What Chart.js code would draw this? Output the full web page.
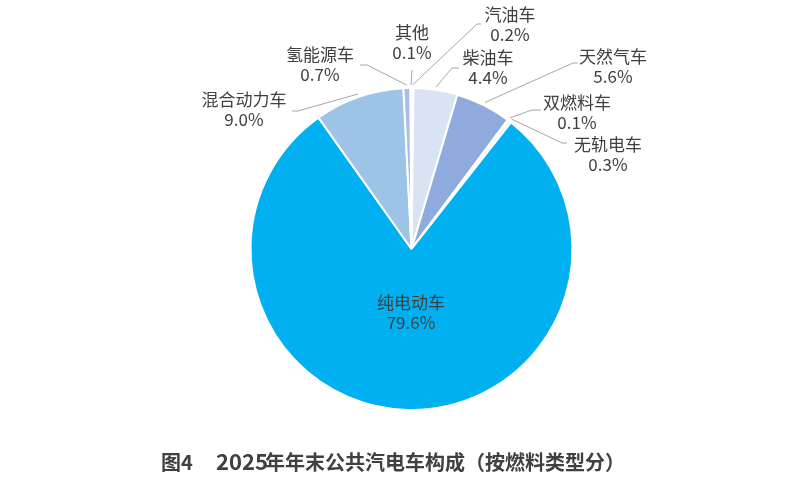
<!DOCTYPE html>
<html><head><meta charset="utf-8">
<script src="https://cdn.jsdelivr.net/npm/chart.js@4.4.1/dist/chart.umd.min.js"></script>
<style>html,body{margin:0;padding:0;background:#fff;overflow:hidden;}</style>
</head><body>
<canvas id="c" width="804" height="477" style="width:804px;height:477px;display:block"></canvas>
<script>
const categories = ['汽油车','柴油车','天然气车','双燃料车','无轨电车','纯电动车','混合动力车','氢能源车','其他'];
const shares = [0.2, 4.4, 5.6, 0.1, 0.3, 79.6, 9.0, 0.7, 0.1];
const percentLabels = ['0.2%','4.4%','5.6%','0.1%','0.3%','79.6%','9.0%','0.7%','0.1%'];
const sliceColors = ['#C9D8F0','#DAE3F3','#8FAADC','#B4C7E7','#DEEBF7','#00B0F0','#9DC3E6','#A9BEE6','#D6DCE5'];
const titleParts = ['图4', '2025', '年年末公共汽电车构成（按燃料类型分）'];

// label layout (text centre x, name-line y, leader elbow and end)
const labelLayout = [
  {x:510, y:15,  line:true, ex:477, ey:24,  hx:481},
  {x:488, y:58,  line:true, ex:452, ey:68,  hx:459},
  {x:613, y:57,  line:true, ex:573, ey:63,  hx:578},
  {x:577, y:103, line:true, ex:532, ey:110, hx:541},
  {x:608, y:145, line:true, ex:562, ey:143, hx:567},
  {x:411, y:303, line:false},
  {x:244, y:100, line:true, ex:298, ey:111, hx:292},
  {x:320, y:55,  line:true, ex:367, ey:65,  hx:360},
  {x:412, y:33,  line:true, ex:412, ey:70,  hx:412}
];
const titleX = [161, 216, 265];

const labelPlugin = {
  id: 'sliceLabels',
  afterDatasetsDraw(chart) {
    const ctx = chart.ctx;
    const meta = chart.getDatasetMeta(0);
    ctx.save();
    meta.data.forEach((arc, i) => {
      const L = labelLayout[i];
      if (L.line) {
        const mid = (arc.startAngle + arc.endAngle) / 2;
        const R = arc.outerRadius + 3;
        const ax = arc.x + Math.cos(mid) * R;
        const ay = arc.y + Math.sin(mid) * R;
        ctx.beginPath();
        ctx.strokeStyle = '#A6A6A6';
        ctx.lineWidth = 1;
        ctx.moveTo(ax, ay);
        ctx.lineTo(L.ex, L.ey);
        ctx.lineTo(L.hx, L.ey);
        ctx.stroke();
      }
      ctx.fillStyle = '#404040';
      ctx.font = '17px "Noto Sans CJK SC", "Noto Sans", sans-serif';
      ctx.textAlign = 'center';
      ctx.textBaseline = 'middle';
      ctx.fillText(categories[i], L.x, L.y);
      ctx.fillText(percentLabels[i], L.x, L.y + 20);
    });
    ctx.fillStyle = '#404040';
    ctx.textAlign = 'left';
    ctx.textBaseline = 'middle';
    titleParts.forEach((t, k) => {
      ctx.font = (k === 1 ? 'bold 22px ' : 'bold 20px ') + '"Noto Sans CJK SC", "Noto Sans", sans-serif';
      ctx.fillText(t, titleX[k], 462);
    });
    ctx.restore();
  }
};

new Chart(document.getElementById('c'), {
  type: 'pie',
  data: {
    labels: categories,
    datasets: [{
      data: shares,
      backgroundColor: sliceColors,
      borderColor: '#FFFFFF',
      borderWidth: 2,
      radius: 161
    }]
  },
  options: {
    responsive: false,
    animation: false,
    devicePixelRatio: 1,
    layout: { padding: { left: 19, top: 21, right: 0, bottom: 0 } },
    plugins: { legend: { display: false }, tooltip: { enabled: false }, title: { display: false } }
  },
  plugins: [labelPlugin]
});
</script>
</body></html>
